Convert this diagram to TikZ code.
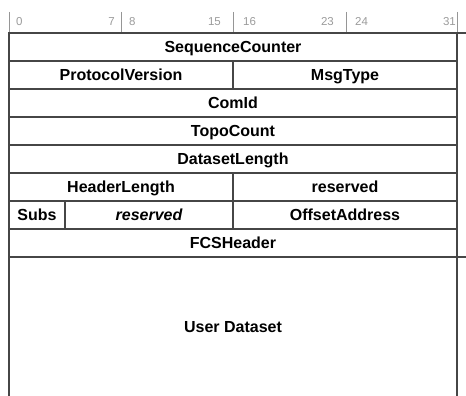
\documentclass[tikz,border=0pt]{standalone}
\usepackage{fontspec}
\setmainfont{Liberation Sans}
\usetikzlibrary{positioning}

\definecolor{linegray}{RGB}{70,70,70}
\definecolor{tickgray}{RGB}{150,150,150}
\definecolor{numgray}{RGB}{155,155,155}
\newcommand\fieldfont{\fontsize{16}{19}\selectfont\bfseries}
\newcommand\bitfont{\fontsize{11.5}{13}\selectfont}

\begin{document}
\begin{tikzpicture}[x=1pt, y=-1pt,
      field/.style={draw=linegray, line width=1.4pt, outer sep=0pt, inner sep=0pt,
          minimum height=28pt, text height=11.5pt, text depth=0pt, font=\fieldfont},
      full/.style={field, minimum width=448pt},
      half/.style={field, minimum width=224pt},
      bitnum/.style={text=numgray, inner sep=0pt, font=\bitfont},
      tick/.style={draw=tickgray, line width=1pt},
      border/.style={draw=linegray, line width=1.4pt}]
    \useasboundingbox (0,0) rectangle (466,396);

    % bit numbers
    \foreach \x in {9,121,233,346,457}
        \draw[tick] (\x,12) -- (\x,33);
    \node[bitnum, anchor=base west] (b0)  at (16,26)  {0};
    \node[bitnum, anchor=base east] (b7)  at (115,26) {7};
    \node[bitnum, anchor=base west] (b8)  at (129,26) {8};
    \node[bitnum, anchor=base east] (b15) at (221,26) {15};
    \node[bitnum, anchor=base west] (b16) at (243,26) {16};
    \node[bitnum, anchor=base east] (b23) at (334,26) {23};
    \node[bitnum, anchor=base west] (b24) at (355,26) {24};
    \node[bitnum, anchor=base east] (b31) at (456,26) {31};

    % header fields
    \node[full, anchor=north west] (seq) at (9,33) {SequenceCounter};
    \node[half, below right=0pt and 0pt of seq.south west] (proto) {ProtocolVersion};
    \node[half, right=0pt of proto] (msgtype) {MsgType};
    \node[full, below right=0pt and 0pt of proto.south west] (comid) {ComId};
    \node[full, below right=0pt and 0pt of comid.south west] (topo) {TopoCount};
    \node[full, below right=0pt and 0pt of topo.south west] (dslen) {DatasetLength};
    \node[half, below right=0pt and 0pt of dslen.south west] (hdrlen) {HeaderLength};
    \node[half, right=0pt of hdrlen] (resvA) {reserved};
    \node[field, minimum width=56pt, below right=0pt and 0pt of hdrlen.south west] (subs) {Subs};
    \node[field, minimum width=168pt, right=0pt of subs] (resvB) {\itshape reserved};
    \node[half, right=0pt of resvB] (offset) {OffsetAddress};
    \node[full, below right=0pt and 0pt of subs.south west] (fcs) {FCSHeader};

    % user data, open at the bottom
    \node[full, draw=none, minimum height=139pt, below right=0pt and 0pt of fcs.south west] (user) {User Dataset};
    \draw[border] (user.north west) -- (user.south west)
                  (user.north east) -- (user.south east);
    \draw[border] (seq.north east) -- ++(9,0)
                  (fcs.south east) -- ++(9,0);
\end{tikzpicture}
\end{document}
